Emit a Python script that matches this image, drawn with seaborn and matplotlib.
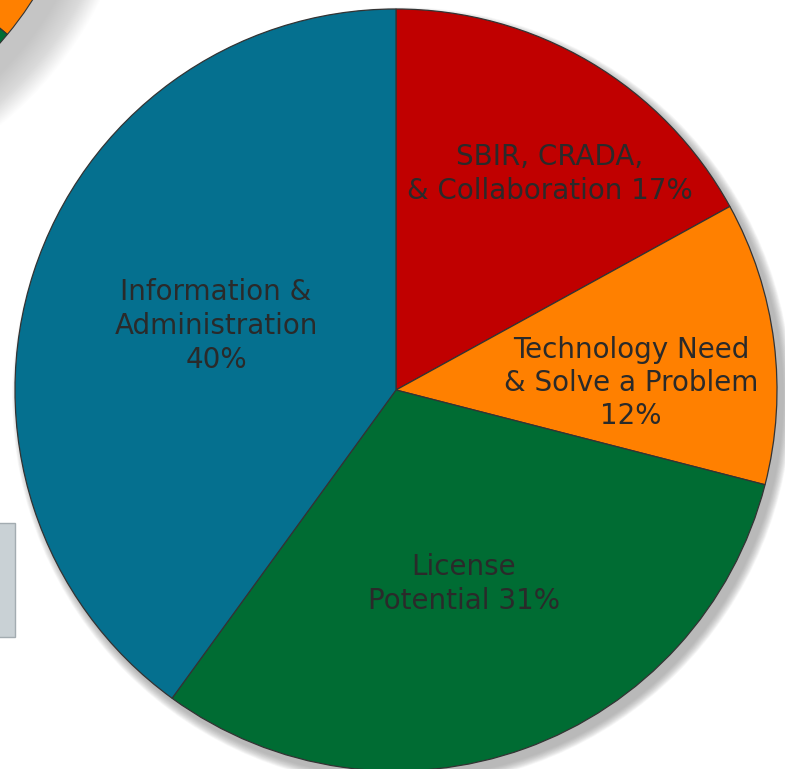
import matplotlib.pyplot as plt
import seaborn as sns
from matplotlib.patches import Circle, Rectangle, Wedge

W, H = 785, 769

labels = [
    "SBIR, CRADA,\n& Collaboration 17%",
    "Technology Need\n& Solve a Problem\n12%",
    "License\nPotential 31%",
    "Information &\nAdministration\n40%",
]
shares = [17, 12, 31, 40]
colors = ["#c00000", "#ff8000", "#006c33", "#05708f"]
# label anchor points, image pixels (x, y from top)
label_xy = [(550, 174), (631, 383), (464, 584), (216, 326)]

CX, CY, R = 396, H - 390, 381


def main() -> None:
    sns.set_theme(style="white")
    plt.rcParams["font.family"] = ["DejaVu Sans"]

    fig = plt.figure(figsize=(W / 100, H / 100), dpi=100)
    ax = fig.add_axes([0, 0, 1, 1])

    # partial neighbour pie peeking in from the top-left corner
    ocx, ocy, orr = -250, H + 180, 335
    for k in range(40, 0, -1):
        ax.add_patch(Circle((ocx + 14, ocy - 14), orr + k, color="#a8a8a8", alpha=0.02, lw=0, zorder=0))
    ax.add_patch(Wedge((ocx, ocy), orr, -39.8, 10, facecolor="#ff8000", edgecolor="#333333", lw=0.8, zorder=1))
    ax.add_patch(Wedge((ocx, ocy), orr, -100, -39.8, facecolor="#006c33", edgecolor="#333333", lw=0.8, zorder=1))

    # gray tab on the left
    ax.add_patch(Rectangle((-5, H - 637), 20, 114, facecolor="#c9d1d5", edgecolor="#a3acb1", lw=1, zorder=1))

    # soft drop shadow, falling to the lower right
    for k in range(16, 0, -1):
        ax.add_patch(Circle((CX + 6, CY - 7), R + k * 0.55, color="#8c8c8c", alpha=0.05, lw=0, zorder=1))

    ax.pie(
        shares,
        colors=colors,
        startangle=90,
        counterclock=False,
        center=(CX, CY),
        radius=R,
        wedgeprops={"edgecolor": "#333333", "linewidth": 0.9},
        frame=False,
    )

    for text, (x, y) in zip(labels, label_xy):
        ax.text(x, H - y, text, ha="center", va="center", fontsize=20, color="#2a2a2a",
                fontweight="normal", linespacing=1.25, zorder=5)

    ax.set_xlim(0, W)
    ax.set_ylim(0, H)
    ax.set_aspect("equal")
    ax.axis("off")
    fig.savefig("out.png", dpi=100)
    plt.close(fig)


if __name__ == "__main__":
    main()
